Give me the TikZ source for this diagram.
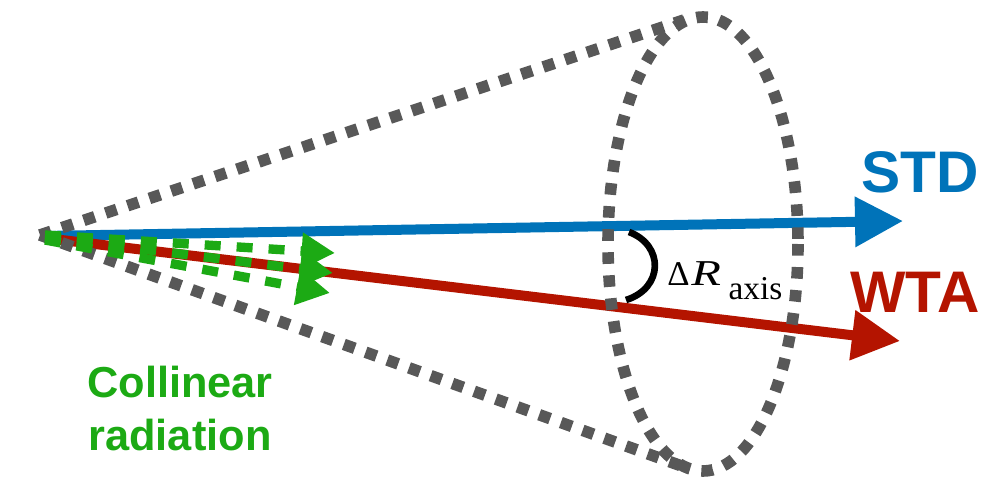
\documentclass[tikz,border=0pt]{standalone}
\usepackage{fontspec}
\usepackage{graphicx}
\newfontfamily\labelfont{Liberation Sans}
\newfontfamily\serifl{Liberation Serif}
\usetikzlibrary{arrows.meta}
\definecolor{stdblue}{RGB}{0,115,185}
\definecolor{wtared}{RGB}{180,20,0}
\definecolor{colgreen}{RGB}{28,170,20}
\definecolor{conegray}{RGB}{88,88,88}
\tikzset{
  conedots/.style={draw=conegray, line width=8.7pt, dash pattern=on 8.7pt off 8.6pt},
  axisarrow/.style={line width=7.5pt, -{Triangle[length=36pt,width=36pt]}},
  colarrow/.style={draw=colgreen, line width=7pt, dash pattern=on 12pt off 12pt, -{Triangle[length=25pt,width=26pt]}},
  biglabel/.style={font=\labelfont\bfseries\fontsize{44}{50}\selectfont, inner sep=0pt, anchor=base west},
  collabel/.style={font=\labelfont\bfseries\fontsize{32.5}{40}\selectfont, inner sep=0pt, anchor=base, text=colgreen}
}
\begin{document}
\begin{tikzpicture}[x=0.75pt,y=-0.75pt]
\useasboundingbox (0,0) rectangle (985,478);
% coordinates
\coordinate (apex) at (40,235);
\coordinate (stdstart) at (43,236);
\coordinate (wtastart) at (45,238);
\coordinate (stdtip) at (903,221);
\coordinate (wtatip) at (900,341);
\coordinate (conetop) at (684,20);
\coordinate (conebot) at (690,469);
\coordinate (ellc) at (703,244);
\coordinate (g1s) at (45,235);
\coordinate (g2s) at (45,237);
\coordinate (g3s) at (45,240);
\coordinate (g1t) at (335,253);
\coordinate (g2t) at (333,273);
\coordinate (g3t) at (330,293);
\coordinate (arcA) at (629,232);
\coordinate (arcB) at (626,300);
% jet axes
\draw[axisarrow, draw=stdblue, stdblue] (stdstart) -- (stdtip);
\draw[axisarrow, draw=wtared, wtared] (wtastart) -- (wtatip);
% cone
\draw[conedots] (apex) -- (conetop);
\draw[conedots] (apex) -- (conebot);
\draw[conedots] (ellc) ellipse [x radius=95, y radius=227];
% angle arc
\draw[line width=5pt, black] (arcA) .. controls (664,245) and (664,288) .. (arcB);
% collinear radiation
\draw[colarrow, colgreen] (g1s) -- (g1t);
\draw[colarrow, colgreen] (g2s) -- (g2t);
\draw[colarrow, colgreen] (g3s) -- (g3t);
% labels
\node[biglabel, text=stdblue] (std) at (861,192) {STD};
\node[biglabel, text=wtared] (wta) at (850,312) {WTA};
\node[collabel] (col1) at (180,397) {Collinear};
\node[collabel] (col2) at (180,450) {radiation};
\node[inner sep=0pt, anchor=base west, font=\serifl\fontsize{26}{30}\selectfont] (dr) at (667,285)
  {\makebox[18pt][l]{Δ}\makebox[28pt][l]{\scalebox{1.4}[1.05]{\itshape R}}\raisebox{-11pt}{\fontsize{25}{30}\selectfont axis}};
\end{tikzpicture}
\end{document}
